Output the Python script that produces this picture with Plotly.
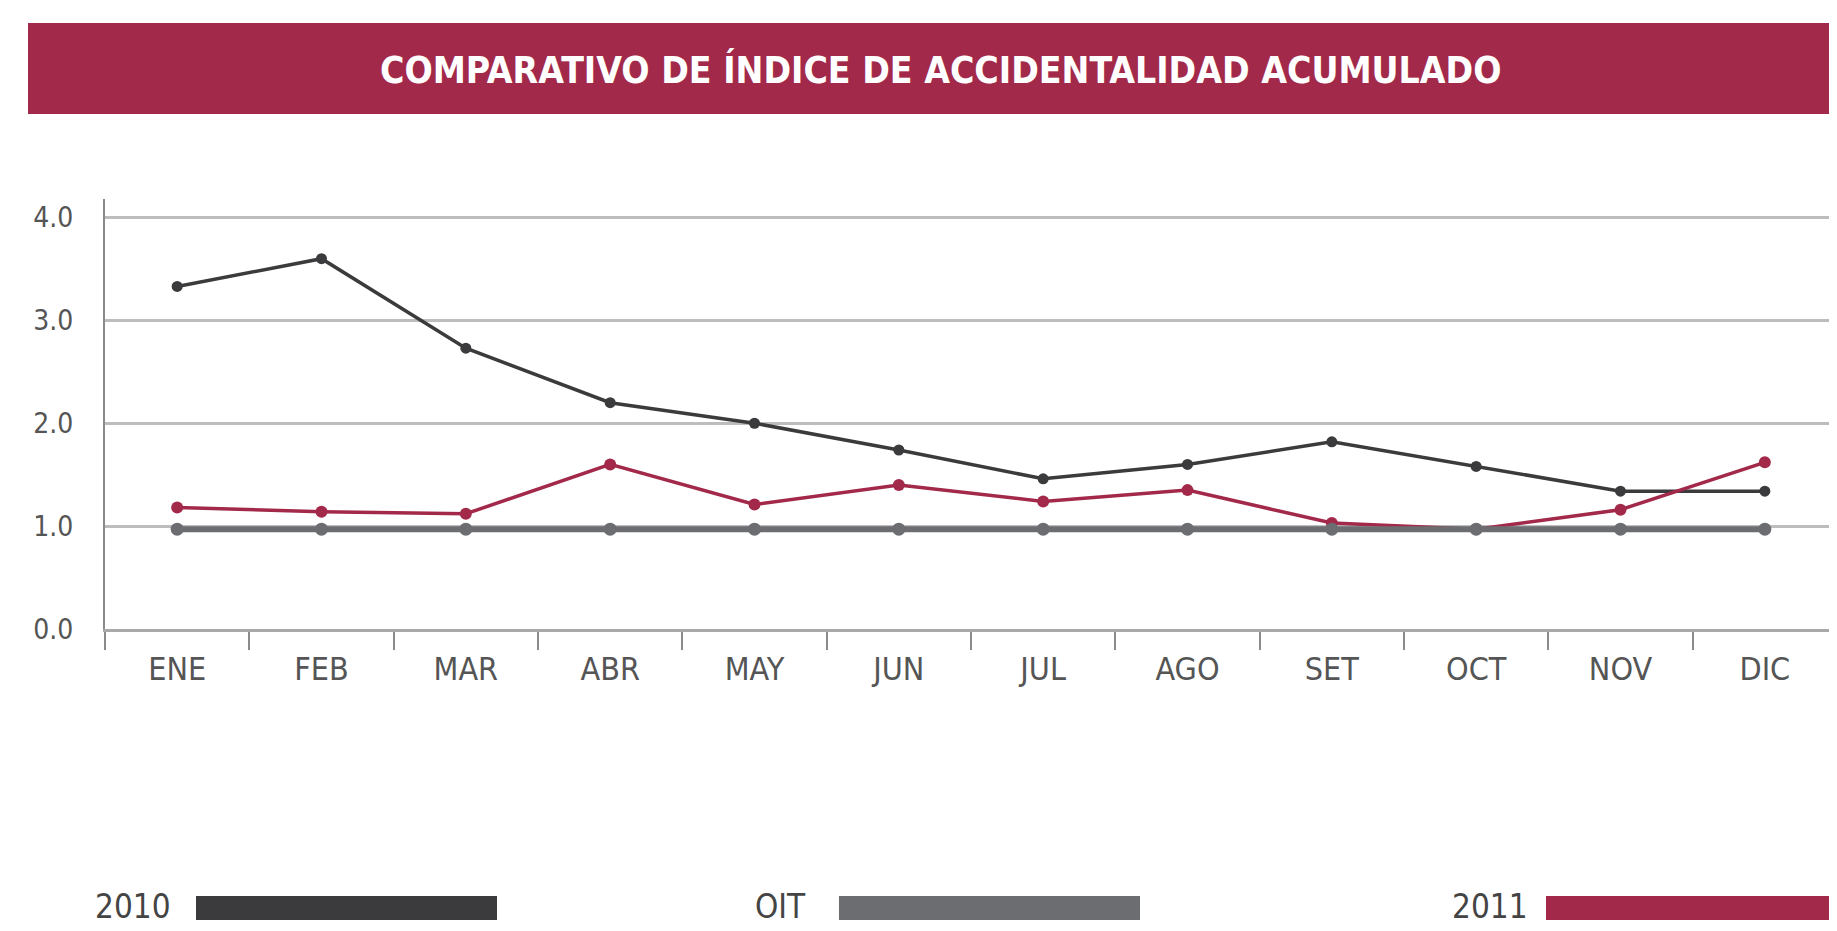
import plotly.graph_objects as go

months = ["ENE", "FEB", "MAR", "ABR", "MAY", "JUN", "JUL", "AGO", "SET", "OCT", "NOV", "DIC"]
v2010 = [3.33, 3.60, 2.73, 2.20, 2.00, 1.74, 1.46, 1.60, 1.82, 1.58, 1.34, 1.34]
v2011 = [1.18, 1.14, 1.12, 1.60, 1.21, 1.40, 1.24, 1.35, 1.03, 0.97, 1.16, 1.62]
voit = [0.97] * 12
yticks = [0, 1, 2, 3, 4]
ytick_text = ["0.0", "1.0", "2.0", "3.0", "4.0"]
title_text = "COMPARATIVO DE ÍNDICE DE ACCIDENTALIDAD ACUMULADO"
legend_names = ["2010", "OIT", "2011"]

C2010 = "#3b3b3d"
COIT = "#6c6d71"
C2011 = "#a3294a"
NARROW = "DejaVu Sans Condensed, Liberation Sans Narrow, sans-serif"

# page has an 8px body margin; target page coordinates are converted to figure coordinates
OFF = 8
W, H = 1837 - OFF, 931 - OFF
PLOT_L, PLOT_T, PLOT_B, PLOT_R = 105, 199, 629, 1837   # target page coordinates of the plot area
L, T = PLOT_L - OFF, PLOT_T - OFF
PW, PH = PLOT_R - PLOT_L, PLOT_B - PLOT_T
R = W - L - PW
B = H - T - PH


def px(x):
    return (x - PLOT_L) / PW


def py(y):
    return (PLOT_B - y) / PH


fig = go.Figure()
fig.add_trace(go.Scatter(x=months, y=v2010, mode="lines+markers", name="2010",
                         line=dict(color=C2010, width=3.5), marker=dict(size=11, color=C2010)))
fig.add_trace(go.Scatter(x=months, y=v2011, mode="lines+markers", name="2011",
                         line=dict(color=C2011, width=3.5), marker=dict(size=12, color=C2011)))
fig.add_trace(go.Scatter(x=months, y=voit, mode="lines+markers", name="OIT",
                         line=dict(color=COIT, width=6), marker=dict(size=13, color=COIT)))

shapes = [
    dict(type="rect", xref="paper", yref="paper", x0=px(28), x1=px(1837 + 30), y0=py(114), y1=py(23),
         fillcolor=C2011, line=dict(width=0), layer="below"),
]
annotations = [
    dict(text=title_text, xref="paper", yref="paper", x=px(940), y=py(70), showarrow=False,
         xanchor="center", yanchor="middle",
         font=dict(family=NARROW, size=37, color="white", weight="bold")),
]

legend_items = [
    (legend_names[0], C2010, 173, 196, 497),
    (legend_names[1], COIT, 808, 839, 1140),
    (legend_names[2], C2011, 1530, 1546, 1837 + 30),
]
for name, col, tx, sx0, sx1 in legend_items:
    shapes.append(dict(type="rect", xref="paper", yref="paper", x0=px(sx0), x1=px(sx1),
                       y0=py(920), y1=py(896), fillcolor=col, line=dict(width=0)))
    annotations.append(dict(text=name, xref="paper", yref="paper", x=px(tx), y=py(906),
                            showarrow=False, xanchor="right", yanchor="middle",
                            font=dict(family=NARROW, size=33, color="#444")))

fig.update_layout(
    width=W, height=H,
    margin=dict(l=L, r=R, t=T, b=B, autoexpand=False),
    paper_bgcolor="white", plot_bgcolor="white",
    showlegend=False,
    shapes=shapes, annotations=annotations,
    hovermode=False,
    xaxis=dict(type="category", categoryorder="array", categoryarray=months,
               showgrid=False, showline=True, linecolor="#a9a9a9", linewidth=2.5,
               ticks="outside", tickson="boundaries", ticklen=18, tickwidth=2, tickcolor="#8a8a8a",
               ticklabelstandoff=10,
               tickfont=dict(family=NARROW, size=32, color="#555"), range=[-0.5, 11.5],
               automargin=False),
    yaxis=dict(range=[0, 4.18], tickvals=yticks, ticktext=ytick_text,
               showgrid=True, gridcolor="#bdbdbd", gridwidth=2.5, zeroline=False,
               showline=True, linecolor="#8a8a8a", linewidth=2,
               ticks="", ticklabelstandoff=24, automargin=False,
               tickfont=dict(family=NARROW, size=28, color="#555")),
)

fig.write_html("out.html", config={"displayModeBar": False})
